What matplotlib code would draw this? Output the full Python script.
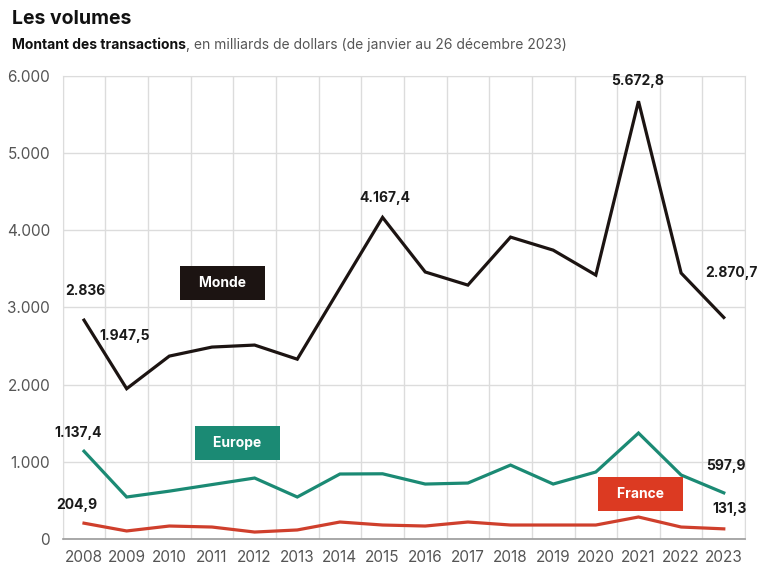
import matplotlib
matplotlib.use('Agg')
import matplotlib.pyplot as plt
from matplotlib.ticker import FuncFormatter

plt.rcParams['font.family'] = ['Inter', 'DejaVu Sans']

years = list(range(2008, 2024))
monde = [2836, 1947.5, 2370, 2487, 2513, 2330, 3250, 4167.4,
         3460, 3290, 3912, 3743, 3420, 5672.8, 3446, 2870.7]
europe = [1137.4, 544, 620, 705, 790, 544, 842, 845,
          712, 725, 958, 712, 868, 1373, 829, 597.9]
france = [204.9, 104, 168, 155, 90, 117, 220, 181,
          168, 220, 181, 181, 181, 285, 155, 131.3]

COL_MONDE = '#1c1412'
COL_EUROPE = '#1b8a74'
COL_FRANCE = '#cf3f2c'
COL_FRANCE_BOX = '#dc3a22'

fig = plt.figure(figsize=(7.57, 5.67), dpi=100)
ax = fig.add_axes([0.0828, 0.0494, 0.9015, 0.8166])

ax.plot(years, monde, color=COL_MONDE, lw=2.3, solid_joinstyle='miter', zorder=3)
ax.plot(years, europe, color=COL_EUROPE, lw=2.3, solid_joinstyle='miter', zorder=3)
ax.plot(years, france, color=COL_FRANCE, lw=2.3, solid_joinstyle='miter', zorder=3)

ax.set_xlim(years[0] - 0.5, years[-1] + 0.5)
ax.set_ylim(0, 6000)
ax.set_yticks(range(0, 6001, 1000))
ax.yaxis.set_major_formatter(FuncFormatter(lambda v, p: f'{int(v):,}'.replace(',', '.')))
ax.set_xticks(years)
ax.set_xticks([y - 0.5 for y in years] + [years[-1] + 0.5], minor=True)

ax.grid(axis='y', which='major', color='#dcdcdc', lw=1)
ax.grid(axis='x', which='minor', color='#dcdcdc', lw=1)
ax.tick_params(axis='both', which='both', length=0, labelsize=11, labelcolor='#555555')
ax.tick_params(axis='y', pad=9)
ax.tick_params(axis='x', pad=8)
for s in ['top', 'left', 'right']:
    ax.spines[s].set_color('#dcdcdc')
ax.spines['bottom'].set_color('#9a9a9a')
ax.spines['bottom'].set_linewidth(1.2)
ax.set_axisbelow(True)

# value labels: (year index, series, text, offset in pixels)
labels = [
    (0, monde, '2.836', (1, 22)),
    (1, monde, '1.947,5', (-2, 46)),
    (7, monde, '4.167,4', (2, 12)),
    (13, monde, '5.672,8', (-1, 13)),
    (15, monde, '2.870,7', (8, 37)),
    (0, europe, '1.137,4', (-6, 11)),
    (15, europe, '597,9', (2, 20)),
    (0, france, '204,9', (-7, 11)),
    (15, france, '131,3', (6, 13)),
]
for i, series, txt, off in labels:
    ax.annotate(txt, (years[i], series[i]), xytext=off, textcoords='offset pixels',
                ha='center', va='bottom', fontsize=10, fontweight='bold',
                color='#1a1a1a', annotation_clip=False, zorder=5)

# series name boxes
boxes = [
    ('Monde', 2011.25, 3316, COL_MONDE),
    ('Europe', 2011.6, 1243, COL_EUROPE),
    ('France', 2021.05, 583, COL_FRANCE_BOX),
]
for name, bx, by, col in boxes:
    ax.text(bx, by, '\u2007' + name + '\u2007', ha='center', va='center',
            fontsize=10, fontweight='bold', color='white', zorder=6,
            bbox=dict(boxstyle='square,pad=0.7', fc=col, ec='none'))

fig.text(0.016, 0.966, 'Les volumes', fontsize=14, fontweight='bold',
         color='#111111', va='center', ha='left')
t1 = fig.text(0.016, 0.920, 'Montant des transactions', fontsize=10, fontweight='bold',
              color='#111111', va='center', ha='left')
ax.annotate(', en milliards de dollars (de janvier au 26 décembre 2023)',
            xy=(1, 0), xycoords=t1, va='bottom', ha='left', fontsize=10,
            color='#555555', annotation_clip=False)

fig.savefig('out.png', dpi=100, facecolor='white')
